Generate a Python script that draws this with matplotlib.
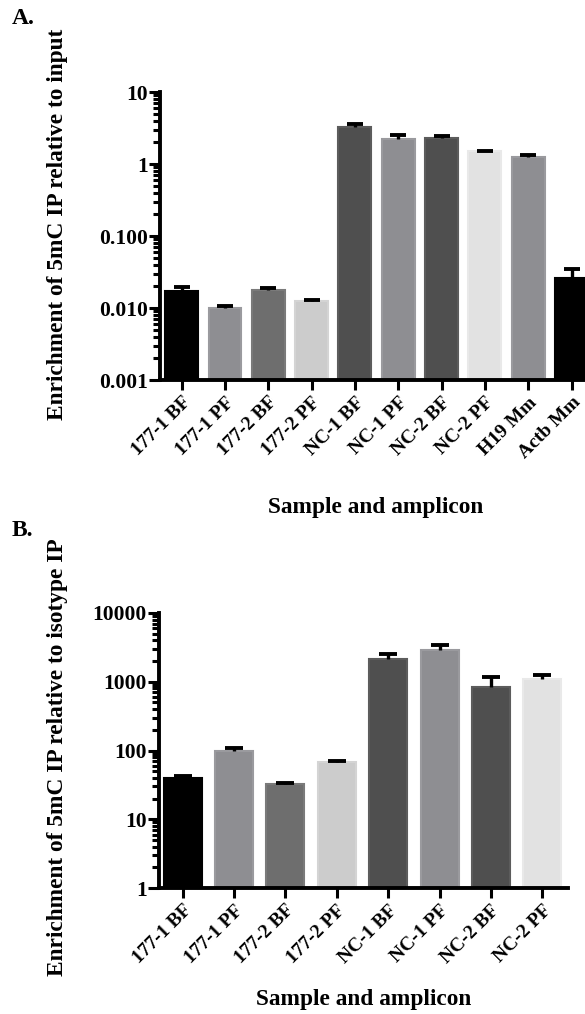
import matplotlib
matplotlib.use('Agg')
import matplotlib.pyplot as plt
from matplotlib.ticker import LogLocator, FixedLocator, FixedFormatter, NullFormatter

plt.rcParams['font.family'] = ['Liberation Serif', 'DejaVu Serif']
plt.rcParams['font.weight'] = 'bold'

# Panel A: enrichment of 5mC IP relative to input
labels_a = ['177-1 BF', '177-1 PF', '177-2 BF', '177-2 PF', 'NC-1 BF',
            'NC-1 PF', 'NC-2 BF', 'NC-2 PF', 'H19 Mm', 'Actb Mm']
values_a = [0.0174, 0.0099, 0.0178, 0.0126, 3.30, 2.20, 2.27, 1.50, 1.24, 0.0258]
upper_a = [0.0198, 0.0107, 0.0190, 0.0129, 3.59, 2.53, 2.45, 1.53, 1.33, 0.0348]

# Panel B: enrichment of 5mC IP relative to isotype IP
labels_b = ['177-1 BF', '177-1 PF', '177-2 BF', '177-2 PF', 'NC-1 BF',
            'NC-1 PF', 'NC-2 BF', 'NC-2 PF']
values_b = [39.8, 97, 32.9, 67, 2145, 2860, 828, 1097]
upper_b = [43, 109, 33.7, 70, 2535, 3430, 1172, 1260]

# bar shades (GraphPad greys) and their slightly lighter outlines
fill_a = ['#000000', '#8e8e92', '#6e6e6e', '#cccccc', '#4f4f4f',
          '#8e8e92', '#4f4f4f', '#e2e2e2', '#8e8e92', '#000000']
edge_a = ['#000000', '#9a9a9e', '#7a7a7a', '#d4d4d4', '#5c5c5c',
          '#9a9a9e', '#5c5c5c', '#e9e9e9', '#9a9a9e', '#000000']
fill_b = fill_a[:8]
edge_b = edge_a[:8]

W, H = 585, 1014
fig = plt.figure(figsize=(W / 100, H / 100), dpi=100)


def px_axes(left, right, top, bottom):
    return fig.add_axes([left / W, 1 - bottom / H, (right - left) / W, (bottom - top) / H])


def draw_panel(ax, labels, values, upper, fills, edges, width, xlim, ylim,
               yticks, yticklabels, cap_ms):
    x = list(range(len(labels)))
    ax.bar(x, values, width=width, color=fills, edgecolor=edges, linewidth=1.5, zorder=2)
    err = [[0] * len(values), [u - v for u, v in zip(upper, values)]]
    ax.errorbar(x, values, yerr=err, fmt='none', ecolor='black', elinewidth=2.4,
                capsize=0, zorder=3)
    ax.plot(x, upper, linestyle='none', marker='_', markersize=cap_ms,
            markeredgewidth=2.8, color='black', zorder=3)
    ax.set_yscale('log')
    ax.set_xlim(*xlim)
    ax.set_ylim(*ylim)
    ax.yaxis.set_major_locator(FixedLocator(yticks))
    ax.yaxis.set_major_formatter(FixedFormatter(yticklabels))
    ax.yaxis.set_minor_locator(LogLocator(base=10, subs=range(2, 10), numticks=20))
    ax.yaxis.set_minor_formatter(NullFormatter())
    ax.set_xticks(x)
    ax.set_xticklabels(labels, rotation=45, ha='right', rotation_mode='anchor',
                       fontsize=14, fontweight='bold')
    for s in ['top', 'right']:
        ax.spines[s].set_visible(False)
    for s in ['left', 'bottom']:
        ax.spines[s].set_linewidth(2.8)
    ax.tick_params(axis='y', which='major', length=8, width=2.2, labelsize=15.5, pad=1)
    ax.tick_params(axis='y', which='minor', length=5, width=2.2)
    ax.tick_params(axis='x', which='major', length=7, width=2.2, pad=3)
    ax.set_facecolor('none')


ax_a = px_axes(160, 585, 92, 380)
draw_panel(ax_a, labels_a, values_a, upper_a, fill_a, edge_a, 0.76, (-0.5, 9.31),
           (0.001, 10), [0.001, 0.01, 0.1, 1, 10], ['0.001', '0.010', '0.100', '1', '10'], 12)

ax_b = px_axes(159, 568, 613, 888)
draw_panel(ax_b, labels_b, values_b, upper_b, fill_b, edge_b, 0.74, (-0.46, 7.5),
           (1, 10000), [1, 10, 100, 1000, 10000], ['1', '10', '100', '1000', '10000'], 13)

# axis titles and panel letters
fig.text(58 / W, 1 - 224 / H, 'Enrichment of 5mC IP relative to input', rotation=90,
         ha='center', va='center', fontsize=16.8, fontweight='bold')
fig.text(58 / W, 1 - 757 / H, 'Enrichment of 5mC IP relative to isotype IP', rotation=90,
         ha='center', va='center', fontsize=16.8, fontweight='bold')
fig.text(376 / W, 1 - 508 / H, 'Sample and amplicon', ha='center', va='center',
         fontsize=16.8, fontweight='bold')
fig.text(364 / W, 1 - 1000 / H, 'Sample and amplicon', ha='center', va='center',
         fontsize=16.8, fontweight='bold')
fig.text(12 / W, 1 - 19 / H, 'A.', ha='left', va='center', fontsize=17, fontweight='bold')
fig.text(12 / W, 1 - 530 / H, 'B.', ha='left', va='center', fontsize=17, fontweight='bold')

fig.savefig('out.png', dpi=100, facecolor='white')
